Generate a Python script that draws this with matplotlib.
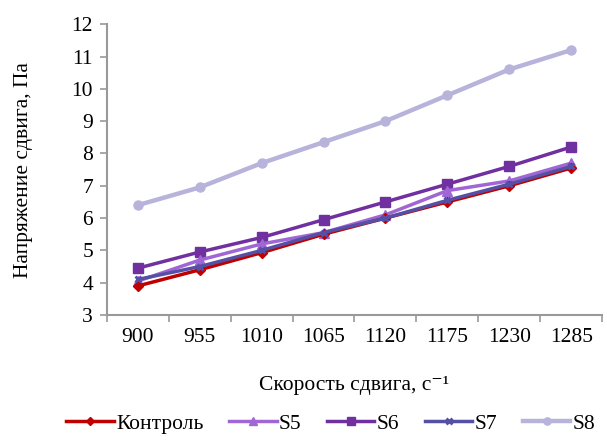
import matplotlib.pyplot as plt

plt.rcParams['font.family'] = ['Liberation Serif', 'DejaVu Serif']

shear_rate = ['900', '955', '1010', '1065', '1120', '1175', '1230', '1285']
control = [3.9, 4.4, 4.93, 5.5, 6.0, 6.5, 7.0, 7.55]
s5 = [4.05, 4.7, 5.2, 5.55, 6.1, 6.85, 7.15, 7.7]
s6 = [4.45, 4.95, 5.4, 5.95, 6.5, 7.05, 7.6, 8.2]
s7 = [4.1, 4.5, 5.0, 5.55, 6.0, 6.55, 7.05, 7.6]
s8 = [6.4, 6.95, 7.7, 8.35, 9.0, 9.8, 10.6, 11.2]

fig = plt.figure(figsize=(6.07, 4.40), dpi=100)
ax = fig.add_axes([0.176, 0.284, 0.816, 0.661])

x = range(len(shear_rate))
ax.plot(x, s8, color='#B7B3DB', lw=3.2, marker='o', ms=6.5, label='S8', zorder=2)
ax.plot(x, s6, color='#7030A0', lw=2.5, marker='s', ms=7, label='S6', zorder=3)
ax.plot(x, s5, color='#A066D3', lw=2.5, marker='^', ms=6.5, label='S5', zorder=4)
ax.plot(x, control, color='#C00000', lw=2.5, marker='D', ms=5.5, label='Контроль', zorder=5)
ax.plot(x, s7, color='#5550A5', lw=2.5, marker='x', ms=5, mew=2, label='S7', zorder=6)

ax.set_ylim(3, 12)
ax.set_yticks(range(3, 13))
ax.set_xlim(-0.5, len(shear_rate) - 0.5)
ax.set_xticks(list(x))
ax.set_xticklabels(shear_rate)
ax.set_xticks([i - 0.5 for i in range(len(shear_rate) + 1)], minor=True)
ax.tick_params(axis='x', which='major', length=0, pad=9)
ax.tick_params(axis='x', which='minor', length=5, color='#999999', width=1.2)
ax.tick_params(axis='y', length=5, color='#999999', width=1.2, pad=5)
ax.tick_params(labelsize=15.5)

for side in ['top', 'right']:
    ax.spines[side].set_visible(False)
for side in ['left', 'bottom']:
    ax.spines[side].set_color('#999999')
    ax.spines[side].set_linewidth(1.5)

ax.set_xlabel('Скорость сдвига, с⁻¹', fontsize=15.5, labelpad=21)
ax.set_ylabel('Напряжение сдвига, Па', fontsize=15.5, labelpad=28)

handles, labels = ax.get_legend_handles_labels()
order = [3, 2, 1, 4, 0]
fig.legend([handles[i] for i in order], [labels[i] for i in order],
           loc='lower center', bbox_to_anchor=(0.545, -0.03), ncol=5,
           frameon=False, fontsize=15.5, handlelength=2.2,
           handletextpad=0.1, columnspacing=1.2, markerscale=0.8)

fig.savefig('out.png', dpi=100)
